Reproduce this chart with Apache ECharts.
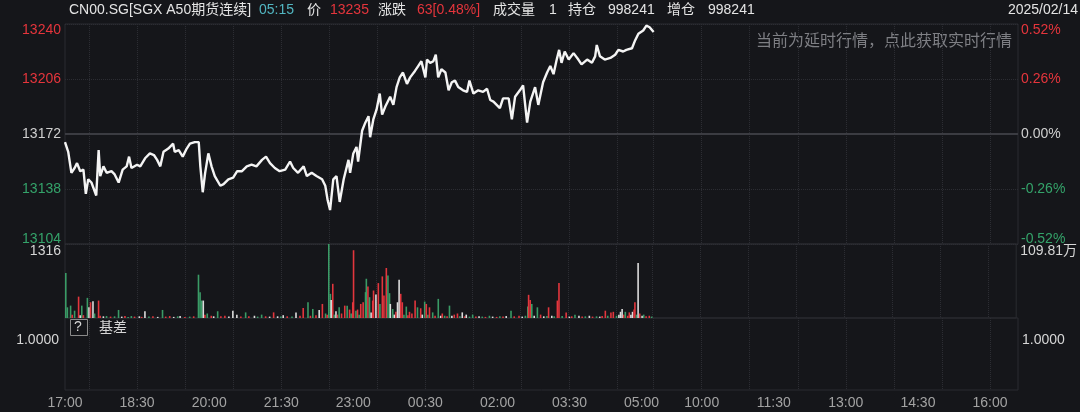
<!DOCTYPE html>
<html><head><meta charset="utf-8">
<script src="https://cdn.jsdelivr.net/npm/echarts@6/dist/echarts.min.js"></script>
<style>html,body{margin:0;padding:0;background:#15161a;}#c{width:1080px;height:412px;}</style>
</head><body><div id="c"></div>
<script>
// ---------- data ----------
const prevClose = 13172;
const priceTimes = ['17:00','17:04','17:08','17:12','17:15','17:19','17:23','17:26','17:29','17:33','17:39','17:42','17:44','17:48','17:52','17:58','18:02','18:07','18:12','18:17','18:20','18:23','18:30','18:34','18:40','18:46','18:51','18:55','18:59','19:03','19:09','19:15','19:17','19:22','19:27','19:32','19:36','19:42','19:47','19:49','19:52','19:55','19:59','20:03','20:07','20:14','20:18','20:24','20:30','20:35','20:41','20:47','20:53','20:59','21:06','21:11','21:16','21:22','21:28','21:35','21:41','21:45','21:51','21:58','22:02','22:08','22:14','22:21','22:25','22:28','22:31','22:35','22:39','22:43','22:48','22:54','22:56','23:00','23:04','23:06','23:11','23:15','23:19','23:21','23:25','23:29','23:33','23:36','23:40','23:46','23:50','23:54','23:58','00:02','00:07','00:11','00:17','00:21','00:25','00:30','00:32','00:36','00:40','00:43','00:46','00:50','00:55','00:59','01:03','01:07','01:11','01:13','01:17','01:22','01:25','01:30','01:36','01:42','01:47','01:51','01:55','01:59','02:03','02:07','02:14','02:18','02:22','02:28','02:32','02:37','02:41','02:47','02:51','02:57','03:02','03:06','03:10','03:14','03:17','03:20','03:24','03:29','03:35','03:41','03:45','03:52','03:58','04:02','04:04','04:08','04:14','04:21','04:27','04:31','04:37','04:41','04:48','04:52','04:56','05:02','05:06','05:10','05:15'];
const prices = [13167,13161,13148,13151,13154,13149,13150,13135,13144,13142,13134,13162,13146,13152,13148,13149,13147,13142,13150,13152,13158,13151,13153,13152,13157,13160,13159,13156,13152,13161,13163,13166,13161,13162,13158,13163,13166,13167,13167,13152,13136,13148,13160,13152,13146,13140,13141,13144,13145,13149,13149,13152,13153,13152,13156,13158,13154,13151,13149,13150,13155,13151,13148,13152,13146,13148,13146,13144,13140,13131,13125,13144,13146,13130,13144,13156,13148,13160,13164,13155,13174,13179,13183,13170,13181,13187,13197,13184,13189,13195,13190,13201,13207,13210,13203,13207,13211,13214,13217,13207,13218,13216,13217,13221,13207,13212,13210,13199,13204,13205,13201,13201,13199,13198,13205,13197,13199,13198,13200,13193,13192,13190,13188,13194,13194,13181,13195,13199,13202,13179,13192,13201,13190,13204,13210,13214,13209,13218,13224,13216,13223,13218,13222,13218,13215,13218,13216,13220,13227,13220,13218,13219,13221,13224,13223,13224,13225,13230,13234,13236,13239,13238,13235];

const volTimes = ['17:01','17:03','17:07','17:09','17:12','17:17','17:19','17:21','17:23','17:28','17:30','17:32','17:35','17:37','17:42','17:44','17:48','17:52','17:57','18:02','18:07','18:11','18:15','18:19','18:23','18:27','18:33','18:36','18:40','18:45','18:50','18:56','19:02','19:06','19:11','19:16','19:21','19:24','19:30','19:36','19:41','19:47','19:49','19:51','19:53','19:55','19:58','20:03','20:06','20:11','20:15','20:20','20:25','20:30','20:35','20:40','20:46','20:50','20:57','21:01','21:06','21:11','21:16','21:21','21:26','21:30','21:33','21:38','21:44','21:49','21:54','21:58','22:04','22:07','22:10','22:14','22:18','22:22','22:26','22:28','22:30','22:32','22:33','22:35','22:37','22:39','22:41','22:43','22:46','22:50','22:53','22:56','22:58','23:00','23:01','23:04','23:06','23:08','23:10','23:13','23:16','23:17','23:19','23:21','23:23','23:25','23:26','23:29','23:32','23:34','23:37','23:39','23:42','23:44','23:46','23:47','23:50','23:52','23:54','23:56','23:58','00:00','00:02','00:04','00:07','00:09','00:11','00:14','00:18','00:21','00:25','00:27','00:30','00:32','00:34','00:36','00:40','00:43','00:47','00:50','00:52','00:55','00:58','01:01','01:04','01:07','01:11','01:14','01:17','01:20','01:22','01:26','01:30','01:34','01:38','01:42','01:46','01:51','01:55','02:00','02:04','02:08','02:12','02:18','02:22','02:28','02:32','02:36','02:39','02:40','02:42','02:44','02:47','02:51','02:55','02:59','03:03','03:05','03:09','03:12','03:16','03:18','03:22','03:27','03:31','03:34','03:38','03:43','03:47','03:51','03:56','04:00','04:05','04:09','04:12','04:16','04:19','04:23','04:26','04:30','04:33','04:35','04:37','04:39','04:41','04:44','04:46','04:48','04:50','04:52','04:53','04:55','04:57','04:59','05:02','05:04','05:07','05:11','05:14'];
const volValues = [800,190,220,60,130,380,50,220,50,358,190,280,300,80,310,40,30,35,25,30,143,25,35,20,35,25,30,20,120,25,30,20,143,25,35,20,30,35,20,25,30,770,460,310,310,60,80,40,30,120,30,40,25,130,60,25,100,30,40,25,60,30,25,100,30,25,50,30,25,100,40,179,280,40,161,50,143,250,80,60,1316,430,322,608,60,120,60,190,80,220,220,150,80,280,1205,130,150,60,250,280,460,698,560,370,100,310,489,417,621,250,740,400,889,757,442,250,160,60,110,280,680,430,280,60,203,50,110,80,310,190,173,60,292,250,60,190,100,40,340,40,80,40,30,220,40,60,80,30,100,30,60,25,60,25,30,25,20,40,25,20,30,25,35,130,30,40,25,40,203,412,322,250,40,190,60,30,35,190,40,30,310,621,35,100,25,30,60,40,25,30,40,25,30,25,35,130,40,100,110,40,60,110,161,60,110,40,100,60,110,150,280,60,979,80,40,60,30,40,25];
const volDirs = ['g','g','g','r','g','r','w','g','r','g','w','r','w','g','r','r','w','g','r','g','g','w','r','g','g','r','w','r','w','g','r','w','g','r','r','w','g','w','r','g','r','g','g','g','w','r','g','r','w','g','r','r','w','w','w','r','g','r','w','g','g','r','w','r','w','g','w','r','g','w','r','r','g','r','g','r','w','r','g','r','g','g','w','r','g','w','r','g','r','r','g','r','g','r','r','g','r','g','r','r','g','g','r','g','w','r','r','w','r','g','r','r','r','g','g','w','g','w','r','w','w','r','r','g','g','r','r','r','r','g','r','w','g','r','g','r','g','r','g','w','r','g','r','g','w','r','r','g','w','r','w','g','g','r','w','g','r','g','w','r','g','r','w','g','r','r','w','g','g','r','r','g','w','g','r','w','g','r','w','g','r','r','g','r','w','r','g','w','r','g','w','r','g','w','r','r','g','r','r','g','w','w','w','r','g','r','r','w','w','r','r','g','w','r','w','g','r','r','g'];
const volMax = 1316;
const volMaxLabel = '109.81万';

const priceLabelVals = [-68,-34,0,34,68];   // offsets from prev close on the axis
const timeLabels = ['17:00','18:30','20:00','21:30','23:00','00:30','02:00','03:30','05:00','10:00','11:30','13:00','14:30','16:00'];
const gridTimes = ['17:30','18:30','19:30','20:30','21:30','22:30','23:30','00:30','01:30','02:30','03:30','04:30','05:15','10:00','11:00','12:00','13:00','14:00','15:00','16:00'];
const basisLabel = '1.0000';

const headerTexts = ['CN00.SG[SGX A50期货连续]','05:15','价','13235','涨跌','63[0.48%]','成交量','1','持仓','998241','增仓','998241'];
const dateText = '2025/02/14';
const noticeText = '当前为延时行情，点此获取实时行情';
const basisTitle = '基差';

// ---------- styles / layout ----------
const RED = '#e5353c', GREEN = '#34a36a', GREY = '#cfcfcf', WHITE = '#e4e4e4';
const VRED = '#e2363d', VGREEN = '#3a9b66', VWHITE = '#dcdcdc';
const FONT = '"Liberation Sans", "Noto Sans CJK SC", sans-serif';
const headerX = [69,259,307,330,378,417,493,549,568,608,667,708];
const headerColors = [WHITE,'#52b6c1',WHITE,RED,WHITE,RED,WHITE,WHITE,WHITE,WHITE,WHITE,WHITE];

function pad(n){return (n<10?'0':'')+n;}
const cats = [];
for (let m = 17*60; m <= 29*60+15; m++) { const mm = m % 1440; cats.push(pad(Math.floor(mm/60))+':'+pad(mm%60)); }
for (let m = 9*60+1; m <= 16*60+35; m++) { cats.push(pad(Math.floor(m/60))+':'+pad(m%60)); }
const labelSet = new Set(timeLabels), gridSet = new Set(gridTimes);

const lineData = priceTimes.map((t,i)=>[cats.indexOf(t), prices[i]-prevClose]);
const colMap = {r:VRED, g:VGREEN, w:VWHITE};
const barData = volTimes.map((t,i)=>({value:[cats.indexOf(t), volValues[i]], itemStyle:{color:colMap[volDirs[i]]}}));

const splitV = {show:true, interval:(i,v)=>gridSet.has(v), lineStyle:{color:'#2c2d33', type:'dotted', width:1}};
function xa(gi, showLabel){
  return {type:'category', gridIndex:gi, data:cats, boundaryGap:false,
    axisLine:{show:false}, axisTick:{show:false},
    axisLabel:{show:showLabel, interval:(i,v)=>labelSet.has(v), color:'#a3a3a3', fontSize:14, fontFamily:FONT, margin:6},
    splitLine:splitV};
}
const priceRich = {
  rt:{color:RED, fontSize:14, fontFamily:FONT, padding:[13,0,0,0]},
  r:{color:RED, fontSize:14, fontFamily:FONT},
  n:{color:GREY, fontSize:14, fontFamily:FONT},
  g:{color:GREEN, fontSize:14, fontFamily:FONT},
  gb:{color:GREEN, fontSize:14, fontFamily:FONT, padding:[0,0,10,0]}
};
function key(v){ return v===68?'rt':v>0?'r':v===0?'n':v===-68?'gb':'g'; }

const grids = [
  {left:65, right:62, top:24, height:220, show:true, borderColor:'#2a2b30', borderWidth:1},
  {left:65, right:62, top:244, height:74, show:true, borderColor:'#2a2b30', borderWidth:1},
  {left:65, right:62, top:318, height:72, show:true, borderColor:'#2a2b30', borderWidth:1}
];

const option = {
  backgroundColor:'#15161a',
  animation:false,
  grid:grids,
  xAxis:[xa(0,false), xa(1,false), xa(2,true)],
  yAxis:[
    {type:'value', gridIndex:0, min:-68, max:68, interval:34, position:'left',
      axisLine:{show:false}, axisTick:{show:false},
      axisLabel:{margin:4, formatter:v=>'{'+key(v)+'|'+(prevClose+v)+'}', rich:priceRich},
      splitLine:{show:true, lineStyle:{color:'#2c2d33', type:'dotted'}}},
    {type:'value', gridIndex:0, min:-68, max:68, interval:34, position:'right',
      axisLine:{show:false}, axisTick:{show:false},
      axisLabel:{margin:3, formatter:v=>'{'+key(v)+'|'+(v/prevClose*100).toFixed(2)+'%}', rich:priceRich},
      splitLine:{show:false}},
    {type:'value', gridIndex:1, min:0, max:volMax, interval:volMax, position:'left',
      axisLine:{show:false}, axisTick:{show:false}, splitLine:{show:false},
      axisLabel:{showMinLabel:false, verticalAlign:'top', margin:4, color:'#d6d6d6', fontSize:14, fontFamily:FONT,
        formatter:v=>v===volMax?String(volMax):''}},
    {type:'value', gridIndex:1, min:0, max:volMax, interval:volMax, position:'right',
      axisLine:{show:false}, axisTick:{show:false}, splitLine:{show:false},
      axisLabel:{showMinLabel:false, verticalAlign:'top', margin:4, color:'#d6d6d6', fontSize:14, fontFamily:FONT,
        formatter:v=>v===volMax?volMaxLabel:''}},
    {type:'value', gridIndex:2, min:0, max:1.44, interval:1, position:'left',
      axisLine:{show:false}, axisTick:{show:false}, splitLine:{show:false},
      axisLabel:{showMinLabel:false, showMaxLabel:false, margin:6, color:'#d6d6d6', fontSize:14, fontFamily:FONT,
        formatter:v=>v===1?basisLabel:''}},
    {type:'value', gridIndex:2, min:0, max:1.44, interval:1, position:'right',
      axisLine:{show:false}, axisTick:{show:false}, splitLine:{show:false},
      axisLabel:{showMinLabel:false, showMaxLabel:false, margin:4, color:'#d6d6d6', fontSize:14, fontFamily:FONT,
        formatter:v=>v===1?basisLabel:''}}
  ],
  series:[
    {type:'line', xAxisIndex:0, yAxisIndex:0, data:lineData, showSymbol:false, symbol:'none',
      lineStyle:{color:'#f4f4f4', width:2.4}, z:5,
      markLine:{silent:true, symbol:'none', label:{show:false}, lineStyle:{color:'#3b3c42', type:'solid', width:2},
        data:[{yAxis:0}]}},
    {type:'bar', xAxisIndex:1, yAxisIndex:2, data:barData, barWidth:1.6, barGap:'-100%'}
  ],
  graphic:[
    ...headerTexts.map((t,i)=>({type:'text', left:headerX[i], top:3, style:{text:t, fill:headerColors[i], font:'14px '+FONT}})),
    {type:'text', right:2, top:3, style:{text:dateText, fill:WHITE, font:'14px '+FONT}},
    {type:'text', right:68, top:32, style:{text:noticeText, fill:'#7e7f84', font:'16px "Noto Sans CJK SC", sans-serif'}},
    {type:'rect', shape:{x:70.5, y:319.5, width:17, height:16}, style:{fill:'none', stroke:'#8a8a8a', lineWidth:1}},
    {type:'text', left:74, top:320, style:{text:'?', fill:'#d6d6d6', font:'14px '+FONT}},
    {type:'text', left:99, top:320, style:{text:basisTitle, fill:'#d6d6d6', font:'14px "Noto Sans CJK SC", sans-serif'}}
  ]
};
const chart = echarts.init(document.getElementById('c'), null, {renderer:'canvas'});
chart.setOption(option);
</script></body></html>
